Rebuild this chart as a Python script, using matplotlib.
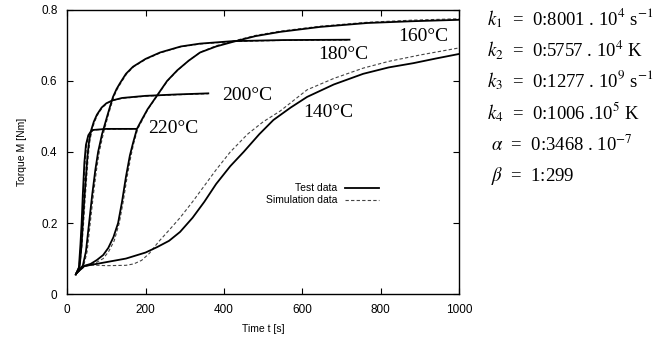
import matplotlib
matplotlib.use("Agg")
import matplotlib.pyplot as plt
from matplotlib.lines import Line2D

plt.rcParams['font.family'] = ['Liberation Sans', 'DejaVu Sans']
plt.rcParams['mathtext.fontset'] = 'stix'

# test data (solid) and simulation data (dashed)
t220 = [22, 30, 34, 37, 40, 44, 48, 54, 60, 66, 100, 140, 176]
m220 = [0.055, 0.075, 0.14, 0.20, 0.28, 0.37, 0.42, 0.447, 0.457, 0.462, 0.465, 0.465, 0.465]
t220s = [22, 30, 35, 38, 42, 46, 50, 56, 62, 68, 100, 140, 176]
m220s = [0.055, 0.072, 0.14, 0.20, 0.28, 0.37, 0.42, 0.447, 0.457, 0.462, 0.464, 0.465, 0.465]

t200 = [22, 32, 37, 40, 44, 48, 52, 56, 61, 68, 76, 88, 100, 115, 140, 200, 280, 360]
m200 = [0.055, 0.078, 0.14, 0.20, 0.27, 0.33, 0.39, 0.43, 0.46, 0.485, 0.505, 0.525, 0.537, 0.545, 0.552, 0.558, 0.562, 0.565]
t200s = [22, 32, 38, 42, 46, 50, 54, 58, 63, 70, 78, 90, 102, 116, 140, 200, 280, 360]
m200s = [0.055, 0.075, 0.14, 0.20, 0.27, 0.33, 0.39, 0.43, 0.46, 0.485, 0.505, 0.525, 0.537, 0.545, 0.551, 0.557, 0.561, 0.564]

t180 = [25, 40, 48, 56, 64, 72, 79, 89, 102, 110, 117, 126, 135, 150, 168, 200, 237, 290, 339, 423, 550, 720]
m180 = [0.06, 0.08, 0.12, 0.20, 0.28, 0.35, 0.40, 0.45, 0.50, 0.53, 0.555, 0.577, 0.594, 0.62, 0.64, 0.662, 0.68, 0.697, 0.705, 0.712, 0.715, 0.716]
t180s = [25, 42, 51, 59, 67, 75, 82, 92, 104, 112, 119, 128, 137, 152, 170, 201, 238, 290, 340, 423, 550, 720]
m180s = [0.06, 0.078, 0.12, 0.20, 0.28, 0.35, 0.40, 0.45, 0.50, 0.53, 0.555, 0.577, 0.594, 0.62, 0.64, 0.661, 0.679, 0.696, 0.704, 0.711, 0.714, 0.715]

t160 = [25, 45, 60, 76, 92, 105, 118, 130, 140, 150, 160, 168, 178, 190, 205, 230, 255, 281, 310, 339,
        380, 423, 480, 543, 645, 765, 880, 1000]
m160 = [0.06, 0.08, 0.085, 0.096, 0.11, 0.13, 0.16, 0.20, 0.26, 0.33, 0.39, 0.425, 0.465, 0.49, 0.52, 0.56, 0.60, 0.63, 0.657, 0.68,
        0.697, 0.71, 0.726, 0.738, 0.752, 0.763, 0.768, 0.772]
t160s = [25, 45, 60, 76, 92, 106, 120, 133, 143, 153, 163, 170, 180, 192, 206, 231, 256, 282, 311, 340,
         380, 423, 480, 543, 645, 765, 880, 1000]
m160s = [0.06, 0.078, 0.082, 0.09, 0.10, 0.12, 0.15, 0.20, 0.26, 0.33, 0.39, 0.425, 0.465, 0.49, 0.52, 0.56, 0.60, 0.63, 0.658, 0.681,
         0.699, 0.712, 0.728, 0.74, 0.754, 0.765, 0.771, 0.775]

t140 = [25, 40, 60, 100, 150, 200, 229, 260, 288, 320, 350, 380, 416, 450, 490, 526, 570, 612, 680, 755, 820, 883, 940, 1000]
m140 = [0.06, 0.078, 0.082, 0.09, 0.10, 0.117, 0.132, 0.15, 0.175, 0.215, 0.26, 0.31, 0.36, 0.40, 0.45, 0.49, 0.525, 0.555, 0.59, 0.62, 0.638, 0.65, 0.663, 0.676]
t140s = [25, 40, 60, 100, 150, 170, 190, 210, 233, 260, 288, 320, 350, 380, 416, 460, 500, 543, 612, 680, 755, 820, 900, 1000]
m140s = [0.06, 0.078, 0.082, 0.08, 0.081, 0.085, 0.095, 0.115, 0.147, 0.18, 0.215, 0.26, 0.305, 0.35, 0.40, 0.45, 0.485, 0.515, 0.575, 0.607, 0.636, 0.655, 0.673, 0.693]

labels = ['220°C', '200°C', '180°C', '160°C', '140°C']
label_t = [206, 395, 640, 845, 602]
label_m = [0.467, 0.56, 0.673, 0.724, 0.51]

params = [r'$k_1$  =  0:8001 . 10$^4$ s$^{-1}$',
          r'$k_2$  =  0:5757 . 10$^4$ K',
          r'$k_3$  =  0:1277 . 10$^9$ s$^{-1}$',
          r'$k_4$  =  0:1006 .10$^5$ K',
          r'$\alpha$  =  0:3468 . 10$^{-7}$',
          r'$\beta$  =  1:299']
param_x = [487, 487, 487, 487, 491, 491]
param_y = [18, 49, 80, 112, 145, 176]

fig = plt.figure(figsize=(6.58, 3.40), dpi=100)
ax = fig.add_axes([0.102, 0.135, 0.596, 0.836])

solid = [(t220, m220), (t200, m200), (t180, m180), (t160, m160), (t140, m140)]
dashed = [(t220s, m220s), (t200s, m200s), (t180s, m180s), (t160s, m160s), (t140s, m140s)]
for t, m in solid:
    ax.plot(t, m, color='black', lw=1.3, zorder=3)
for t, m in dashed:
    ax.plot(t, m, color='#444444', lw=0.8, ls=(0, (3, 2)), zorder=2)

for s, x, y in zip(labels, label_t, label_m):
    ax.text(x, y, s, family='Liberation Serif', fontsize=14, ha='left', va='center')

ax.set_xlim(0, 1000)
ax.set_ylim(0, 0.8)
ax.set_xticks([0, 200, 400, 600, 800, 1000])
ax.set_yticks([0, 0.2, 0.4, 0.6, 0.8])
ax.set_yticklabels(['0', '0.2', '0.4', '0.6', '0.8'])
ax.tick_params(direction='in', length=4, width=0.8, top=True, right=True, labelsize=8.5, pad=7)
for sp in ax.spines.values():
    sp.set_linewidth(1.0)
ax.set_xlabel('Time t [s]', fontsize=7.5, labelpad=6)
ax.set_ylabel('Torque M [Nm]', fontsize=7.5, labelpad=10)

handles = [Line2D([], [], color='black', lw=1.3),
           Line2D([], [], color='#444444', lw=0.8, ls=(0, (3, 2)))]
ax.legend(handles, ['Test data', 'Simulation data'], loc='upper right',
          bbox_to_anchor=(0.805, 0.405), frameon=False, markerfirst=False,
          fontsize=7.5, handlelength=3.2, handletextpad=0.8, labelspacing=0.2,
          borderaxespad=0)

for s, x, y in zip(params, param_x, param_y):
    fig.text(x / 658, 1 - y / 340, s, family='Liberation Serif', fontsize=13.5, ha='left', va='center')

fig.savefig('out.png', dpi=100)
